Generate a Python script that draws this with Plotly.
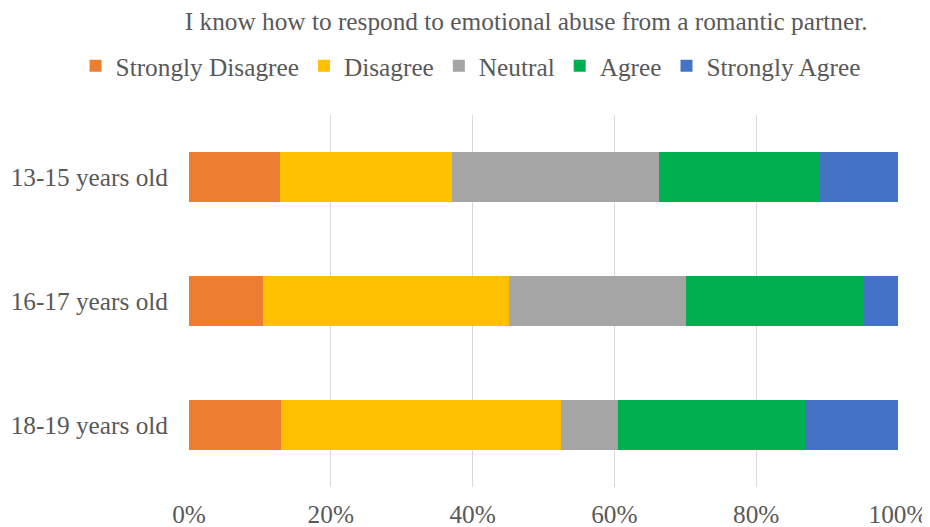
import plotly.graph_objects as go

categories = ["13-15 years old", "16-17 years old", "18-19 years old"]
series_names = ["Strongly Disagree", "Disagree", "Neutral", "Agree", "Strongly Agree"]
strongly_disagree = [12.8, 10.5, 13.0]
disagree = [24.3, 34.7, 39.5]
neutral = [29.2, 24.9, 8.0]
agree = [22.5, 25.1, 26.4]
strongly_agree = [11.2, 4.8, 13.1]
colors = ["#ED7D31", "#FFC000", "#A5A5A5", "#00B050", "#4472C4"]
tick_vals = [0, 20, 40, 60, 80, 100]
tick_text = ["0%", "20%", "40%", "60%", "80%", "100%"]

series_values = [strongly_disagree, disagree, neutral, agree, strongly_agree]

fig = go.Figure()
for name, vals, col in zip(series_names, series_values, colors):
    fig.add_trace(go.Bar(
        y=categories, x=vals, name=name, orientation="h",
        marker=dict(color=col, line=dict(width=0)),
    ))

FONT = "'Liberation Serif', 'Times New Roman', Times, 'DejaVu Serif', serif"
FS = 25.3
TXT = "#595959"
fig.update_layout(
    barmode="stack",
    bargap=0.6,
    width=922, height=519,
    margin=dict(l=181, r=32, t=107, b=40, autoexpand=False),
    plot_bgcolor="white", paper_bgcolor="white",
    font=dict(family=FONT, size=FS, color=TXT),
    title=dict(text="I know how to respond to emotional abuse from a romantic partner.",
               x=0.562, xanchor="center", y=0.975, yanchor="middle",
               font=dict(family=FONT, size=FS, color=TXT)),
    legend=dict(orientation="h", x=-0.16, xanchor="left", y=1.132, yanchor="middle",
                font=dict(family=FONT, size=FS, color=TXT),
                itemwidth=30, traceorder="normal"),
    showlegend=True,
)
fig.update_xaxes(range=[0, 100], tickvals=tick_vals, ticktext=tick_text,
                 showgrid=True, gridcolor="#D9D9D9", gridwidth=1,
                 zeroline=False, showline=False, ticks="", automargin=False,
                 ticklabelstandoff=10,
                 tickfont=dict(family=FONT, size=FS, color=TXT))
fig.update_yaxes(autorange="reversed", showgrid=False, showline=False, ticks="",
                 ticklabelstandoff=20, automargin=False,
                 tickfont=dict(family=FONT, size=FS, color=TXT))

fig.write_html("out.html")
